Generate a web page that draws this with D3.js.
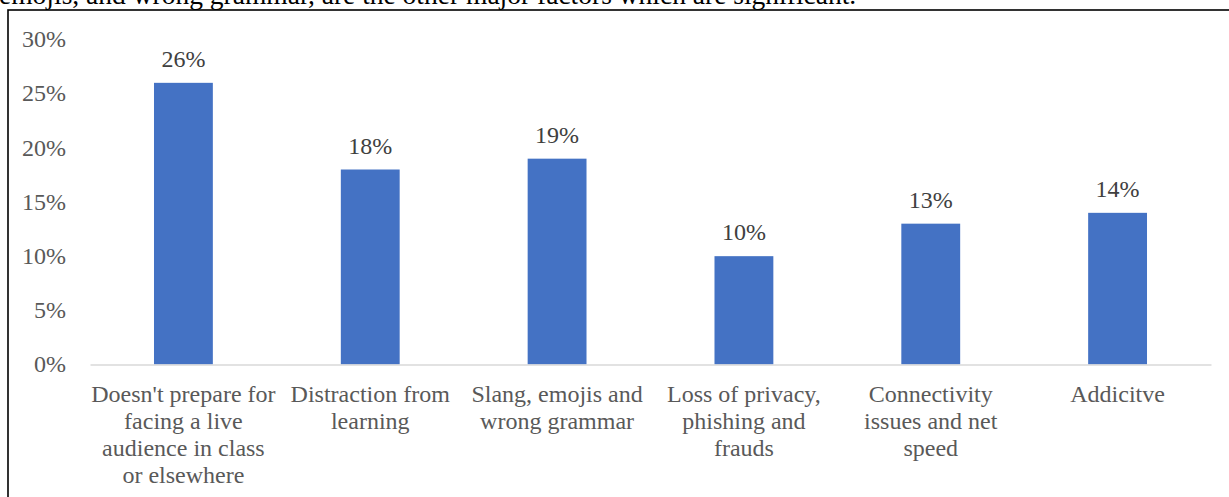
<!DOCTYPE html>
<html>
<head>
<meta charset="utf-8">
<script src="https://cdn.jsdelivr.net/npm/d3@7"></script>
<style>
  html, body { margin: 0; padding: 0; background: #fff; overflow: hidden; }
  svg { display: block; }
</style>
</head>
<body>
<svg id="chart" width="1229" height="497"></svg>
<script>
// Reasons given against social-media-based learning (share of respondents)
const categories = [
  "Doesn't prepare for facing a live audience in class or elsewhere",
  "Distraction from learning",
  "Slang, emojis and wrong grammar",
  "Loss of privacy, phishing and frauds",
  "Connectivity issues and net speed",
  "Addicitve"
];
const categoryLines = [
  ["Doesn't prepare for", "facing a live", "audience in class", "or elsewhere"],
  ["Distraction from", "learning"],
  ["Slang, emojis and", "wrong grammar"],
  ["Loss of privacy,", "phishing and", "frauds"],
  ["Connectivity", "issues and net", "speed"],
  ["Addicitve"]
];
const values = [26, 18, 19, 10, 13, 14];
const yTicks = [0, 5, 10, 15, 20, 25, 30];
const leadText = "emojis, and wrong grammar, are the other major factors which are significant.";

const svg = d3.select("#chart");
const serif = "'Liberation Serif', 'Times New Roman', serif";

// Tail of the paragraph running above the figure
svg.append("text")
  .attr("x", -1).attr("y", 4)
  .attr("font-family", serif).attr("font-size", 27.5)
  .attr("fill", "#000")
  .text(leadText);

// Figure frame
svg.append("rect")
  .attr("x", 8).attr("y", 10)
  .attr("width", 1400).attr("height", 700)
  .attr("fill", "none").attr("stroke", "#000").attr("stroke-width", 1.6);

const plot = { left: 90, right: 1211, top: 39.5, bottom: 364.5 };

const x = d3.scaleBand()
  .domain(categories)
  .range([plot.left, plot.right])
  .paddingInner(0).paddingOuter(0);

const y = d3.scaleLinear()
  .domain([0, 30])
  .range([plot.bottom, plot.top]);

const barWidth = x.bandwidth() * 0.315;

// Y axis labels (no axis line, no gridlines)
const yAxis = d3.axisLeft(y)
  .tickValues(yTicks)
  .tickSize(0)
  .tickPadding(0)
  .tickFormat(d => d + "%");

const yg = svg.append("g")
  .attr("transform", "translate(66,0)")
  .call(yAxis);
yg.select(".domain").remove();
yg.selectAll("text")
  .attr("font-family", serif)
  .attr("font-size", 24)
  .attr("fill", "#595959")
  .attr("dy", "0.3em");

// Bars
svg.append("g").selectAll("rect")
  .data(values)
  .join("rect")
  .attr("x", (d, i) => x(categories[i]) + (x.bandwidth() - barWidth) / 2)
  .attr("y", d => y(d))
  .attr("width", barWidth)
  .attr("height", d => y(0) - y(d))
  .attr("fill", "#4472c4");

// Category axis baseline
const xAxis = d3.axisBottom(x).tickSize(0).tickFormat("");
const xg = svg.append("g")
  .attr("transform", `translate(0,${y(0)})`)
  .call(xAxis);
xg.select(".domain")
  .attr("stroke", "#d9d9d9")
  .attr("stroke-width", 1.5);

// Value labels above bars
svg.append("g").selectAll("text")
  .data(values)
  .join("text")
  .attr("x", (d, i) => x(categories[i]) + x.bandwidth() / 2)
  .attr("y", d => y(d) - 16)
  .attr("text-anchor", "middle")
  .attr("font-family", serif)
  .attr("font-size", 24)
  .attr("fill", "#404040")
  .text(d => d + "%");

// Wrapped category labels
const catG = svg.append("g").selectAll("text")
  .data(categories)
  .join("text")
  .attr("x", d => x(d) + x.bandwidth() / 2)
  .attr("y", 401.5)
  .attr("text-anchor", "middle")
  .attr("font-family", serif)
  .attr("font-size", 24)
  .attr("fill", "#595959");

catG.each(function(d, i) {
  d3.select(this).selectAll("tspan")
    .data(categoryLines[i])
    .join("tspan")
    .attr("x", x(d) + x.bandwidth() / 2)
    .attr("dy", (t, j) => j === 0 ? 0 : 27)
    .text(t => t);
});
</script>
</body>
</html>
